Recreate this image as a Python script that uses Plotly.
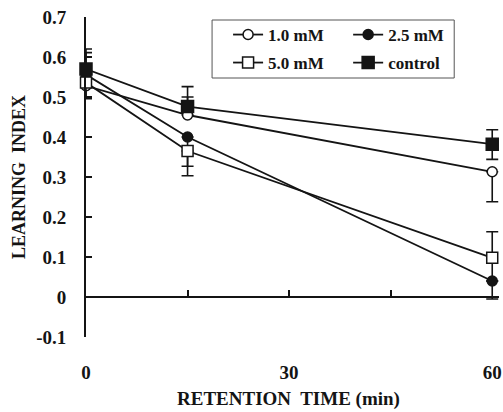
import plotly.graph_objects as go

# ---- data ----
time_min = [0, 15, 60]
series_names = ["1.0 mM", "2.5 mM", "5.0 mM", "control"]
v_1mM = [0.528, 0.455, 0.313]
v_25mM = [0.556, 0.400, 0.040]
v_5mM = [0.536, 0.365, 0.098]
v_ctrl = [0.570, 0.476, 0.382]
# error bars (upper / lower)
e_1mM_up = [0.0, 0.045, 0.0]
e_1mM_dn = [0.030, 0.0, 0.075]
e_25mM_up = [0.055, 0.0, 0.0]
e_25mM_dn = [0.0, 0.073, 0.045]
e_5mM_up = [0.0, 0.0, 0.065]
e_5mM_dn = [0.040, 0.062, 0.058]
e_ctrl_up = [0.050, 0.050, 0.036]
e_ctrl_dn = [0.0, 0.0, 0.038]
y_ticks = [-0.1, 0, 0.1, 0.2, 0.3, 0.4, 0.5, 0.6, 0.7]
y_ticktext = ["-0.1", "0", "0.1", "0.2", "0.3", "0.4", "0.5", "0.6", "0.7"]
x_ticks = [0, 30, 60]
x_minor_ticks = [15, 30, 45]

# ---- layout geometry ----
W_FIG, H_FIG = 503, 412
ML, MT, MB = 86, 17, 75
X_RANGE = [0, 61]
Y_RANGE = [-0.1, 0.7]
PW = 406 * (X_RANGE[1] - X_RANGE[0]) / 60.0
MR = W_FIG - ML - PW
PH = H_FIG - MT - MB

def px_x(p):
    return (p - ML) / PW

def px_y(p):
    return (H_FIG - MB - p) / PH

FONT = "Liberation Serif"
INK = "#141414"
LW = 1.8

specs = [
    (series_names[0], v_1mM, e_1mM_up, e_1mM_dn, "circle", "white", 10, "legend"),
    (series_names[1], v_25mM, e_25mM_up, e_25mM_dn, "circle", INK, 10, "legend2"),
    (series_names[2], v_5mM, e_5mM_up, e_5mM_dn, "square", "white", 11, "legend3"),
    (series_names[3], v_ctrl, e_ctrl_up, e_ctrl_dn, "square", INK, 12, "legend4"),
]

fig = go.Figure()
for name, vals, eu, ed, sym, fill, size, lg in specs:
    fig.add_trace(go.Scatter(
        x=time_min, y=vals, name=name, mode="lines+markers",
        line=dict(color=INK, width=LW),
        marker=dict(symbol=sym, size=size, color=fill, line=dict(color=INK, width=1.5)),
        error_y=dict(type="data", symmetric=False, array=eu, arrayminus=ed,
                     color=INK, thickness=1.6, width=6),
        legend=lg, cliponaxis=False,
    ))

# dummy trace to create the zero-line axis
fig.add_trace(go.Scatter(x=[None], y=[None], xaxis="x2", showlegend=False, hoverinfo="skip"))

zero_pos = (0 - Y_RANGE[0]) / (Y_RANGE[1] - Y_RANGE[0])

fig.update_layout(
    width=W_FIG, height=H_FIG,
    margin=dict(l=ML, r=MR, t=MT, b=MB, pad=0, autoexpand=False),
    paper_bgcolor="white", plot_bgcolor="white",
    font=dict(family=FONT, size=19, color=INK, weight="bold"),
    xaxis=dict(range=X_RANGE, tickvals=x_ticks, ticktext=[str(v) for v in x_ticks],
               showline=False, zeroline=False, showgrid=False, ticks="",
               ticklabelstandoff=22, tickfont=dict(size=19, family=FONT, weight="bold")),
    xaxis2=dict(range=X_RANGE, overlaying="x", anchor="free", position=zero_pos,
                showline=True, linecolor=INK, linewidth=LW, ticks="inside",
                tickvals=x_minor_ticks, ticklen=6, tickwidth=LW, tickcolor=INK,
                showticklabels=False, showgrid=False, zeroline=False),
    yaxis=dict(range=Y_RANGE, tickvals=y_ticks, ticktext=y_ticktext,
               showline=True, linecolor=INK, linewidth=LW, ticks="inside",
               ticklen=6, tickwidth=LW, tickcolor=INK, showgrid=False, zeroline=False,
               ticklabelstandoff=14, tickfont=dict(size=19, family=FONT, weight="bold")),
    showlegend=True,
)

leg_common = dict(bgcolor="rgba(0,0,0,0)", borderwidth=0, xanchor="left", yanchor="middle",
                  font=dict(family=FONT, size=17, color=INK, weight="bold"))
fig.update_layout(
    legend=dict(x=px_x(228), y=px_y(35), **leg_common),
    legend2=dict(x=px_x(348), y=px_y(35), **leg_common),
    legend3=dict(x=px_x(228), y=px_y(63), **leg_common),
    legend4=dict(x=px_x(348), y=px_y(63), **leg_common),
)

fig.add_shape(type="rect", xref="paper", yref="paper",
              x0=px_x(212), x1=px_x(454), y0=px_y(78), y1=px_y(20),
              line=dict(color="#555555", width=1), fillcolor="rgba(0,0,0,0)")

fig.add_annotation(text="RETENTION\u00a0 TIME (min)", xref="paper", yref="paper",
                   x=px_x(288), y=px_y(399), showarrow=False, xanchor="center", yanchor="middle",
                   font=dict(family=FONT, size=19, color=INK, weight="bold"))
fig.add_annotation(text="LEARNING\u00a0 INDEX", xref="paper", yref="paper",
                   x=px_x(19), y=px_y(177), showarrow=False, xanchor="center", yanchor="middle",
                   textangle=-90,
                   font=dict(family=FONT, size=18, color=INK, weight="bold"))

fig.write_html("out.html", config={"displayModeBar": False},
               post_script="document.body.style.margin='0';document.body.style.overflow='hidden';")
